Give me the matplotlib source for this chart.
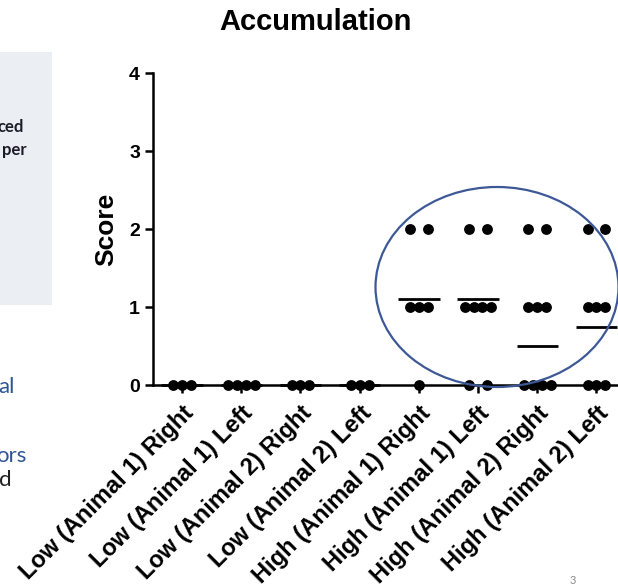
import numpy as np
import matplotlib
matplotlib.use("Agg")
import matplotlib.pyplot as plt
from matplotlib.patches import Ellipse, Rectangle
from matplotlib.transforms import ScaledTranslation

# groups along the x axis
groups = ["Low (Animal 1) Right", "Low (Animal 1) Left",
          "Low (Animal 2) Right", "Low (Animal 2) Left",
          "High (Animal 1) Right", "High (Animal 1) Left",
          "High (Animal 2) Right", "High (Animal 2) Left"]

# individual scores per group
low_a1_right = [0, 0, 0]
low_a1_left = [0, 0, 0, 0]
low_a2_right = [0, 0, 0]
low_a2_left = [0, 0, 0]
high_a1_right = [2, 2, 1, 1, 1, 0]
high_a1_left = [2, 2, 1, 1, 1, 1, 0, 0]
high_a2_right = [2, 2, 1, 1, 1, 0, 0, 0, 0]
high_a2_left = [2, 2, 1, 1, 1, 0, 0, 0]
scores = [low_a1_right, low_a1_left, low_a2_right, low_a2_left,
          high_a1_right, high_a1_left, high_a2_right, high_a2_left]

# mean bars as drawn on the chart
means = [0, 0, 0, 0, 1.1, 1.1, 0.5, 0.75]

yticks = [0, 1, 2, 3, 4]

W, H = 618, 587
fig = plt.figure(figsize=(W / 100, H / 100), dpi=100)
plt.rcParams['font.family'] = ['Liberation Sans', 'DejaVu Sans']

# axes placed in pixel terms, right end runs off the slide crop
ax_l, ax_r = 152.5, 626.0
ax_b, ax_t = 385.0, 73.0
ax = fig.add_axes([ax_l / W, (H - ax_b) / H, (ax_r - ax_l) / W, (ax_b - ax_t) / H])

step = 0.15
for i, vals in enumerate(scores):
    vals = np.array(vals)
    for v in np.unique(vals):
        k = int((vals == v).sum())
        off = (np.arange(k) - (k - 1) / 2) * step
        if k == 2:
            off = off * 2
        ax.plot(i + off, np.full(k, v), 'o', color='black', markersize=7.8,
                markeredgewidth=0, clip_on=False, zorder=3)
    ax.hlines(means[i], i - 0.35, i + 0.35, color='black', lw=2, zorder=2, clip_on=False)

ax.set_xlim(-0.5, 7.5)
ax.set_ylim(0, 4)
ax.set_yticks(yticks)
ax.set_yticklabels([str(t) for t in yticks], fontsize=14, fontweight='bold')
ax.set_xticks(range(len(groups)))
ax.set_xticklabels(groups, fontsize=17, fontweight='bold', rotation=45,
                   ha='right', va='top', rotation_mode='anchor')
shift = ScaledTranslation(-7 / 72, -3 / 72, fig.dpi_scale_trans)
for lab in ax.get_xticklabels():
    lab.set_transform(lab.get_transform() + shift)
ax.tick_params(axis='both', width=1.8, length=6, pad=3)
ax.tick_params(axis='x', pad=6)
for s in ['top', 'right']:
    ax.spines[s].set_visible(False)
for s in ['left', 'bottom']:
    ax.spines[s].set_linewidth(1.8)
ax.set_ylabel("Score", fontsize=19, fontweight='bold', labelpad=8)

fig.text(315 / W, 1 - 22 / H, "Accumulation", fontsize=21, fontweight='bold',
         ha='center', va='center')

# highlight ellipse
ell = Ellipse((497, H - 287), 243, 200, transform=None, fill=False,
              edgecolor='#3d5896', lw=1.6, zorder=5)
fig.add_artist(ell)

# bits of the slide that show at the left
fig.add_artist(Rectangle((0, 1 - 305 / H), 52 / W, 253 / H, transform=fig.transFigure,
                         facecolor='#ebeef3', edgecolor='none', zorder=0))
fig.text(-3 / W, 1 - 132 / H, "ced", fontsize=12, fontweight='bold', color='#1c1c28',
         family=['Lato', 'DejaVu Sans'], ha='left', va='baseline')
fig.text(2 / W, 1 - 155 / H, "per", fontsize=12, fontweight='bold', color='#1c1c28',
         family=['Lato', 'DejaVu Sans'], ha='left', va='baseline')
fig.text(-2 / W, 1 - 393 / H, "al", fontsize=16, color='#2f5597',
         family=['Lato', 'DejaVu Sans'], ha='left', va='baseline')
fig.text(-4 / W, 1 - 462 / H, "ors", fontsize=16, color='#2f5597',
         family=['Lato', 'DejaVu Sans'], ha='left', va='baseline')
fig.text(-1 / W, 1 - 486 / H, "d", fontsize=16, color='#222222',
         family=['Lato', 'DejaVu Sans'], ha='left', va='baseline')
fig.text(573 / W, 1 - 580 / H, "3", fontsize=8, color='#8c8c8c',
         family=['Lato', 'DejaVu Sans'], ha='center', va='center')

fig.savefig("out.png", dpi=100)
